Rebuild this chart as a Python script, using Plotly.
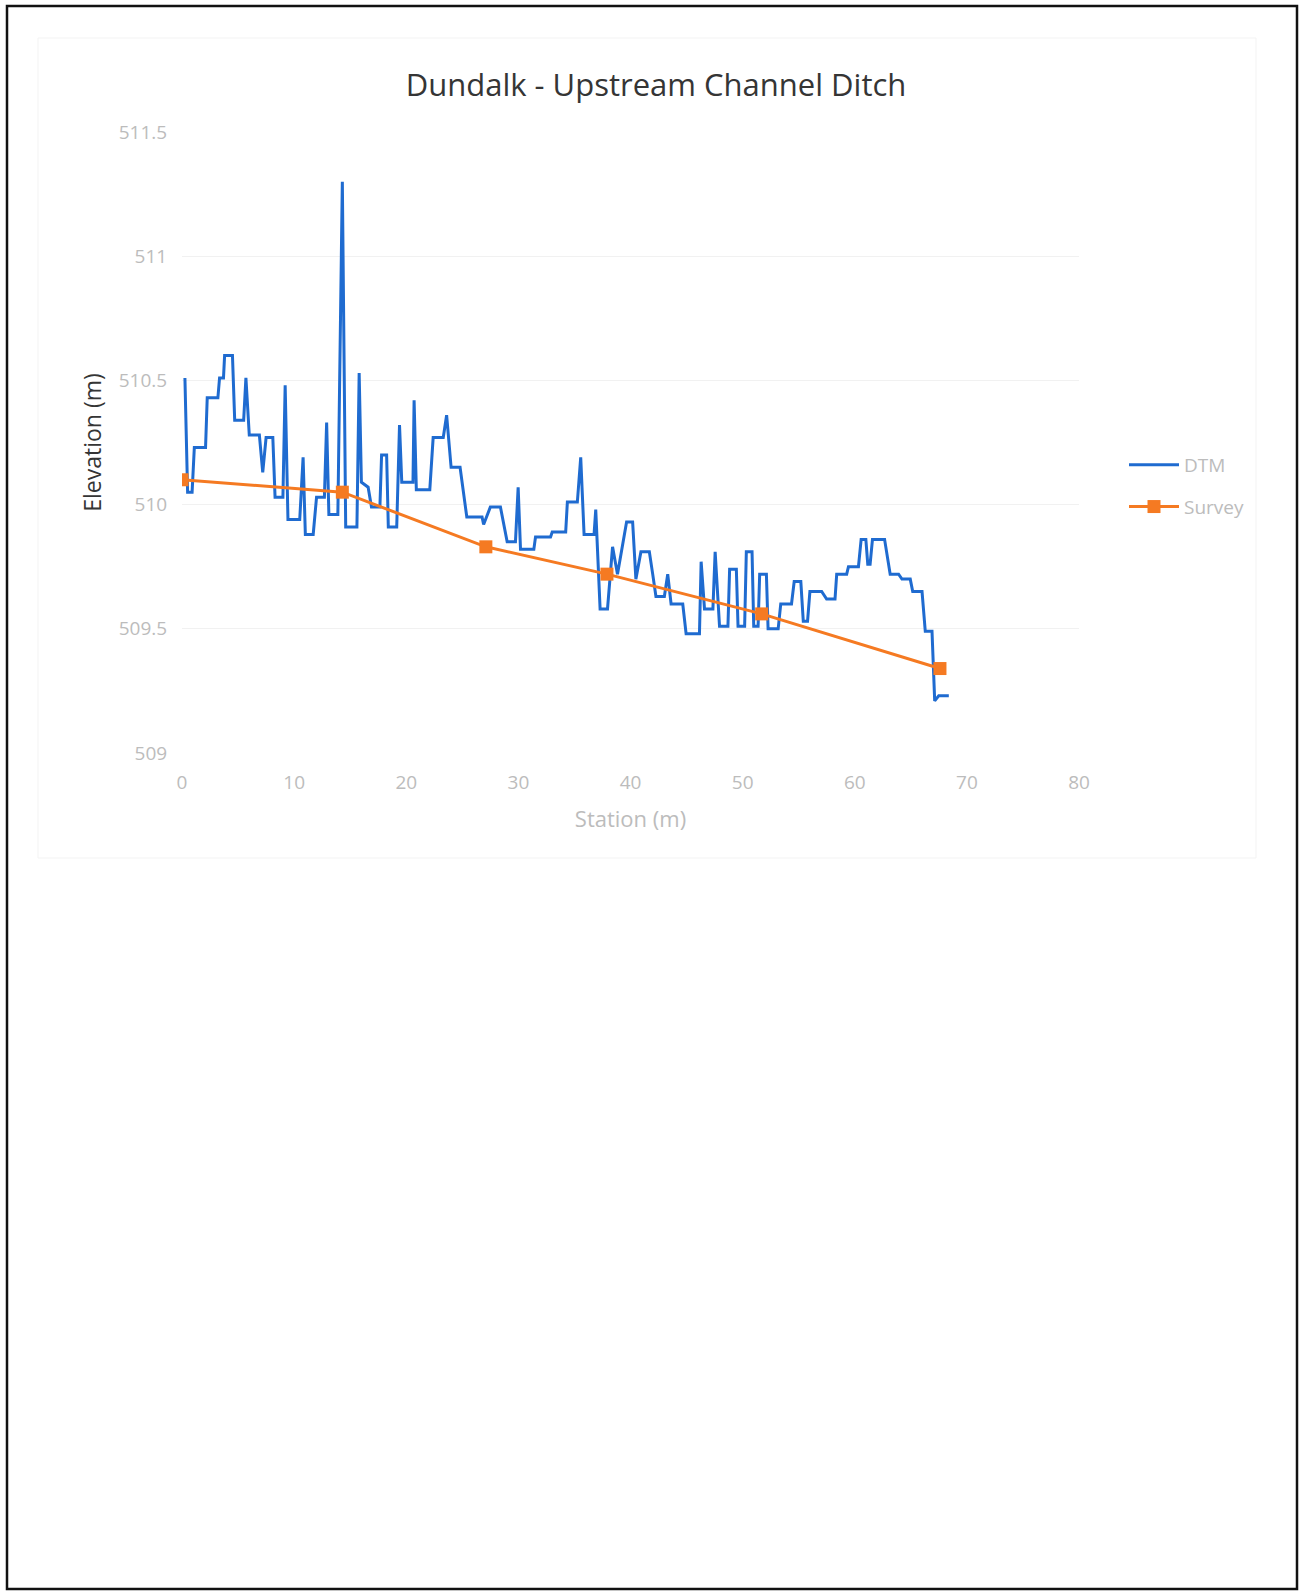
import plotly.graph_objects as go

# DEM profile vertices (station m, elevation m)
dem_station = [0.26, 0.5, 0.9, 1.1, 2.1, 2.25, 3.2, 3.35, 3.7, 3.8, 4.5, 4.7, 5.5, 5.7, 6.0,
               6.9, 7.2, 7.5, 8.1, 8.3, 9.0, 9.2, 9.45, 10.5, 10.8, 11.0, 11.7, 12.0, 12.7,
               12.9, 13.1, 13.9, 14.3, 14.6, 15.6, 15.8, 16.0, 16.6, 16.9, 17.65, 17.8, 18.25,
               18.4, 19.15, 19.4, 19.6, 20.6, 20.7, 20.9, 22.1, 22.4, 23.3, 23.6, 24.0, 24.8,
               25.1, 25.4, 26.76, 26.9, 27.5, 28.4, 29.0, 29.74, 29.98, 30.19, 31.38, 31.53,
               32.87, 33.02, 34.22, 34.37, 35.26, 35.56, 35.86, 36.75, 36.9, 37.29, 37.95,
               38.4, 38.84, 39.65, 40.19, 40.48, 40.93, 41.68, 41.98, 42.27, 43.02, 43.32,
               43.62, 44.66, 44.96, 46.15, 46.3, 46.6, 47.35, 47.55, 47.94, 48.69, 48.84,
               49.44, 49.59, 50.18, 50.33, 50.84, 50.99, 51.38, 51.52, 52.12, 52.27, 53.17,
               53.4, 54.36, 54.6, 55.19, 55.41, 55.79, 56.0, 57.05, 57.49, 58.24, 58.39,
               59.28, 59.44, 60.33, 60.57, 60.99, 61.16, 61.37, 61.58, 62.66, 63.16, 63.91,
               64.21, 64.95, 65.17, 66.0, 66.29, 66.89, 67.13, 67.49, 68.39]
dem_elev = [510.51, 510.05, 510.05, 510.23, 510.23, 510.43, 510.43, 510.51, 510.51, 510.60,
            510.60, 510.34, 510.34, 510.51, 510.28, 510.28, 510.13, 510.27, 510.27, 510.03,
            510.03, 510.48, 509.94, 509.94, 510.19, 509.88, 509.88, 510.03, 510.03, 510.33,
            509.96, 509.96, 511.30, 509.91, 509.91, 510.53, 510.09, 510.07, 509.99, 509.99,
            510.20, 510.20, 509.91, 509.91, 510.32, 510.09, 510.09, 510.42, 510.06, 510.06,
            510.27, 510.27, 510.36, 510.15, 510.15, 510.05, 509.95, 509.95, 509.92, 509.99,
            509.99, 509.85, 509.85, 510.07, 509.82, 509.82, 509.87, 509.87, 509.89, 509.89,
            510.01, 510.01, 510.19, 509.88, 509.88, 509.98, 509.58, 509.58, 509.83, 509.72,
            509.93, 509.93, 509.70, 509.81, 509.81, 509.72, 509.63, 509.63, 509.72, 509.60,
            509.60, 509.48, 509.48, 509.77, 509.58, 509.58, 509.81, 509.51, 509.51, 509.74,
            509.74, 509.51, 509.51, 509.81, 509.81, 509.51, 509.51, 509.72, 509.72, 509.50,
            509.50, 509.60, 509.60, 509.69, 509.69, 509.53, 509.53, 509.65, 509.65, 509.62,
            509.62, 509.72, 509.72, 509.75, 509.75, 509.86, 509.86, 509.76, 509.76, 509.86,
            509.86, 509.72, 509.72, 509.70, 509.70, 509.65, 509.65, 509.49, 509.49, 509.21,
            509.23, 509.23]

survey_station = [0.0, 14.3, 27.1, 37.9, 51.7, 67.6]
survey_elev = [510.10, 510.05, 509.83, 509.72, 509.56, 509.34]

x_ticks = [0, 10, 20, 30, 40, 50, 60, 70, 80]
y_ticks = [509, 509.5, 510, 510.5, 511, 511.5]

W, H = 1302, 1592
FONT = "Open Sans"
LIGHT = "#bcbcbc"
DARK = "#353535"

fig = go.Figure()
fig.add_trace(go.Scatter(x=dem_station, y=dem_elev, mode="lines", name="DTM",
                         legendgroup="a",
                         line=dict(color="#1f6bd0", width=3)))
fig.add_trace(go.Scatter(x=survey_station, y=survey_elev, mode="lines+markers", name="Survey",
                         legendgroup="b",
                         line=dict(color="#f57a22", width=3),
                         marker=dict(symbol="square", size=13, color="#f57a22")))

# plot area in page pixels
px_l, px_r, px_t, px_b = 182, 1079, 132, 753

fig.update_layout(
    width=W, height=H,
    margin=dict(l=0, r=0, t=0, b=0, autoexpand=False),
    paper_bgcolor="white", plot_bgcolor="white",
    font=dict(family=FONT, color=LIGHT, size=19),
    title=dict(text="Dundalk - Upstream Channel Ditch", x=656 / W, xanchor="center",
               y=1 - 85 / H, yanchor="middle",
               font=dict(family=FONT, size=31, color=DARK)),
    xaxis=dict(domain=[px_l / W, px_r / W], range=[0, 80], tickvals=x_ticks,
               showgrid=False, zeroline=False, showline=False,
               ticks="outside", ticklen=12, tickcolor="rgba(0,0,0,0)",
               tickfont=dict(size=19, color=LIGHT),
               title=dict(text="Station (m)", font=dict(size=22, color=LIGHT), standoff=17)),
    yaxis=dict(domain=[1 - px_b / H, 1 - px_t / H], range=[509, 511.5], tickvals=y_ticks,
               showgrid=True, gridcolor="#f1f1f1", gridwidth=1, zeroline=False, showline=False,
               ticks="outside", ticklen=10, tickcolor="rgba(0,0,0,0)",
               tickfont=dict(size=19, color=LIGHT),
               title=dict(text="Elevation (m)", font=dict(size=23, color=DARK), standoff=10)),
    legend=dict(x=1124 / W, y=1 - 446 / H, xanchor="left", yanchor="top",
                font=dict(size=19, color=LIGHT), tracegroupgap=14,
                itemwidth=50, bgcolor="rgba(0,0,0,0)"),
    showlegend=True,
)

# faint outline of the embedded chart area
fig.add_shape(type="rect", xref="paper", yref="paper",
              x0=38 / W, x1=1256 / W, y0=1 - 858 / H, y1=1 - 38 / H,
              line=dict(color="#f3f3f3", width=1))
# page border of the scanned document
fig.add_shape(type="rect", xref="paper", yref="paper",
              x0=7 / W, x1=1297 / W, y0=1 - 1589 / H, y1=1 - 6 / H,
              line=dict(color="#111111", width=2.5))

# drop the default body margin so the figure fills the window exactly
fig.write_html("out.html", config={"displayModeBar": False},
               post_script="document.body.style.margin='0';")
